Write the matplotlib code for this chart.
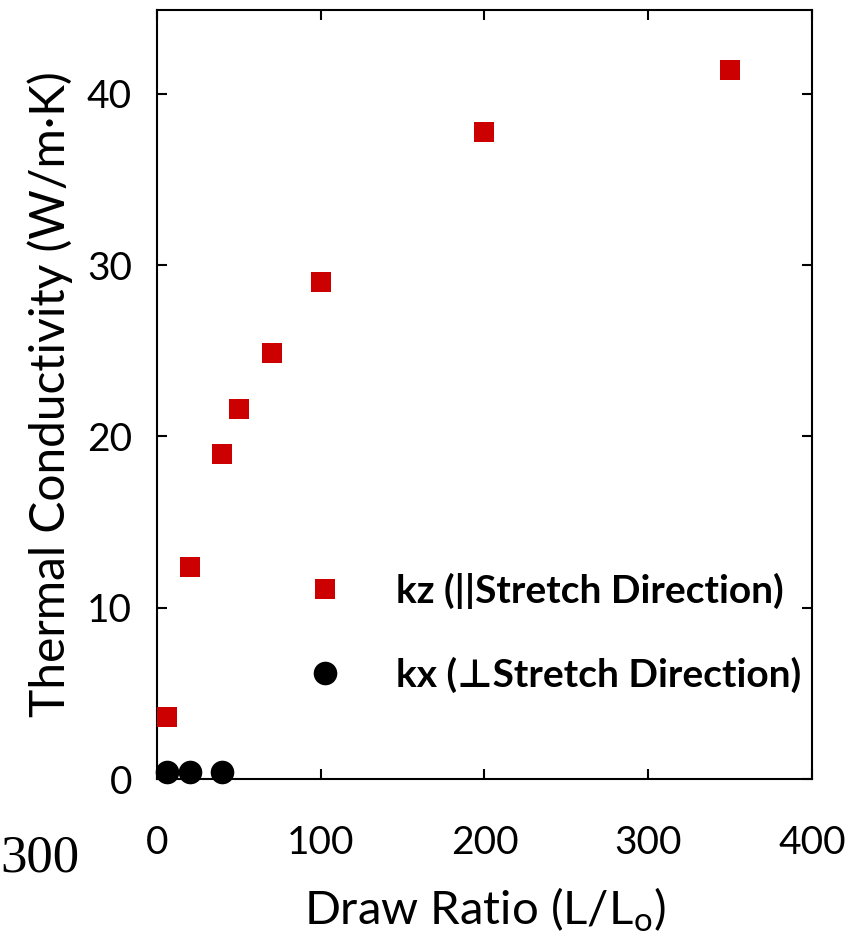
import numpy as np
import matplotlib
matplotlib.use('Agg')
import matplotlib.pyplot as plt

# draw ratio vs thermal conductivity
kz_ratio = [6, 20, 40, 50, 70, 100, 200, 350]
kz_val = [3.6, 12.4, 19.0, 21.6, 24.9, 29.0, 37.8, 41.4]
kx_ratio = [6, 20, 40]
kx_val = [0.4, 0.4, 0.4]

xticks = [0, 100, 200, 300, 400]
yticks = [0, 10, 20, 30, 40]

plt.rcParams['font.family'] = ['Lato', 'DejaVu Sans']
plt.rcParams['mathtext.fontset'] = 'custom'
plt.rcParams['mathtext.rm'] = 'Lato'

fig = plt.figure(figsize=(8.56, 9.42), dpi=100)
ax = fig.add_axes([0.1834, 0.173, 0.7652, 0.8164])

ax.plot(kz_ratio, kz_val, 's', color='#cc0000', markersize=15, markeredgewidth=0,
        label='kz (||Stretch Direction)', clip_on=False, zorder=3)
ax.plot(kx_ratio, kx_val, 'o', color='black', markersize=17, markeredgewidth=0,
        label='kx (\u22a5Stretch Direction)', clip_on=False, zorder=3)

ax.set_xlim(0, 400)
ax.set_ylim(0, 44.9)
ax.set_xticks(xticks)
ax.set_yticks(yticks)
ax.tick_params(direction='in', length=7, width=1.5, top=True, right=True,
               labelsize=28, colors='black')
ax.tick_params(axis='x', pad=33)
ax.tick_params(axis='y', pad=18)
for s in ax.spines.values():
    s.set_linewidth(1.5)

ax.set_xlabel(r'Draw Ratio (L/L$_\mathregular{o}$)', fontsize=34, labelpad=18)
ax.set_ylabel('Thermal Conductivity (W/m\u00b7K)', fontsize=34.5, labelpad=10)

leg = ax.legend(loc='upper left', bbox_to_anchor=(0.18, 0.314), frameon=False,
                prop={'size': 28, 'weight': 'bold'}, handletextpad=1.42,
                labelspacing=1.23, handlelength=0.8)

# stray label left in the original picture
fig.text(0.0, 0.089, '300', fontsize=38, family='Liberation Serif', va='center')

plt.savefig('out.png', dpi=100)
